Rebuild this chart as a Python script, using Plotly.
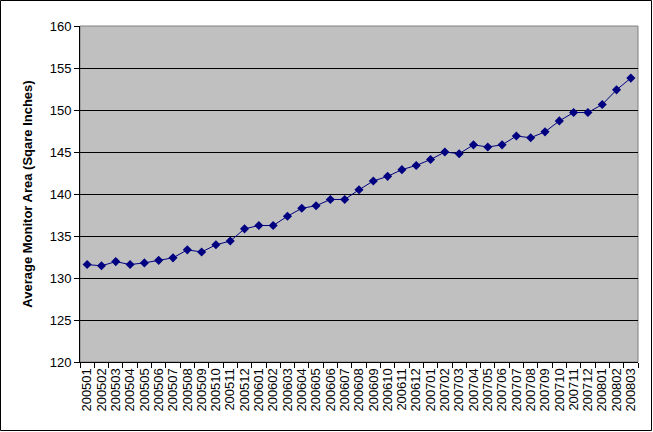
import plotly.graph_objects as go

months = ["200501","200502","200503","200504","200505","200506","200507","200508","200509","200510",
          "200511","200512","200601","200602","200603","200604","200605","200606","200607","200608",
          "200609","200610","200611","200612","200701","200702","200703","200704","200705","200706",
          "200707","200708","200709","200710","200711","200712","200801","200802","200803"]
area = [131.6, 131.45, 131.95, 131.6, 131.8, 132.1, 132.4, 133.35, 133.1, 133.95,
        134.4, 135.85, 136.25, 136.25, 137.35, 138.3, 138.6, 139.35, 139.35, 140.5,
        141.55, 142.1, 142.9, 143.4, 144.1, 145.0, 144.8, 145.85, 145.6, 145.85,
        146.9, 146.7, 147.4, 148.7, 149.7, 149.7, 150.65, 152.4, 153.8]
y_ticks = [120, 125, 130, 135, 140, 145, 150, 155, 160]

fig = go.Figure()
fig.add_trace(go.Scatter(
    x=months, y=area, mode="lines+markers",
    line=dict(color="#000080", width=1),
    marker=dict(symbol="diamond", size=7, color="#000080"),
    showlegend=False,
))

font = "Liberation Sans, Arial, sans-serif"
L, R, T, B = 80, 15, 26, 70
W, H = 653, 432
pw, ph = W - L - R, H - T - B
fig.update_layout(
    width=W, height=H,
    margin=dict(l=L, r=R, t=T, b=B, autoexpand=False),
    paper_bgcolor="white",
    plot_bgcolor="#C0C0C0",
    font=dict(family=font, size=13, color="black"),
    xaxis=dict(
        type="category", tickangle=-90, tickson="boundaries", automargin=False,
        tickmode="array", tickvals=months, ticktext=months,
        ticks="outside", ticklen=5, tickcolor="black", tickwidth=1,
        showline=True, linecolor="black", linewidth=1,
        showgrid=False, tickfont=dict(family=font, size=13, color="black"),
        range=[-0.5, len(months) - 0.5],
    ),
    yaxis=dict(
        range=[120, 160], tickvals=y_ticks, automargin=False,
        ticks="outside", ticklen=5, tickcolor="black", tickwidth=1,
        showline=True, linecolor="black", linewidth=1,
        showgrid=True, gridcolor="black", gridwidth=1, zeroline=False,
        tickfont=dict(family=font, size=13, color="black"),
        title=dict(text="<b>Average Monitor Area (Sqare Inches)</b>",
                   font=dict(family=font, size=13, color="black"), standoff=14),
    ),
    shapes=[
        dict(type="rect", xref="paper", yref="paper", x0=0, x1=1, y0=0, y1=1,
             line=dict(color="#808080", width=1), layer="below"),
        dict(type="rect", xref="paper", yref="paper",
             x0=-(L - 0.5) / pw, x1=1 + (R - 1.5) / pw,
             y0=-(B - 1.5) / ph, y1=1 + (T - 0.5) / ph,
             line=dict(color="black", width=1)),
    ],
)

fig.write_html("out.html",
               config={"displayModeBar": False},
               post_script="document.body.style.margin='0';document.body.style.overflow='hidden';")
